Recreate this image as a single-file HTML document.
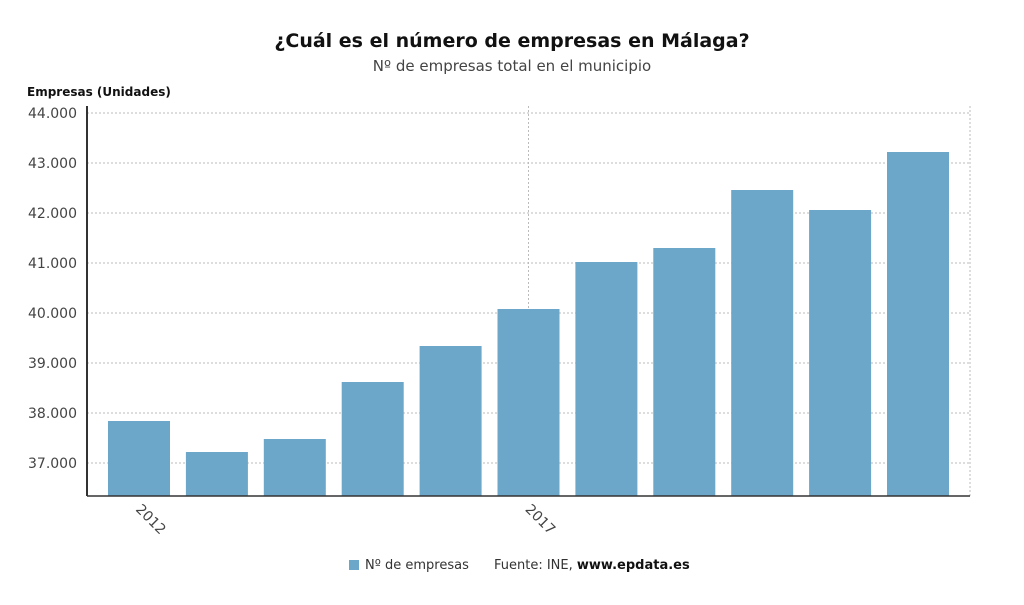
<!DOCTYPE html>
<html><head><meta charset="utf-8"><style>
body{margin:0;background:#fff;font-family:"DejaVu Sans","Liberation Sans",sans-serif;}
</style></head><body>
<svg id="c" width="1024" height="601" xmlns="http://www.w3.org/2000/svg">
<text x="512" y="47" text-anchor="middle" font-size="19" font-weight="bold" fill="#111">¿Cuál es el número de empresas en Málaga?</text>
<text x="512" y="71" text-anchor="middle" font-size="15" fill="#444">Nº de empresas total en el municipio</text>
<text x="27" y="96" font-size="12" font-weight="bold" fill="#111">Empresas (Unidades)</text>
<g id="grid"></g><g id="bars"></g><g id="axes"></g>
<rect x="349" y="560" width="10" height="10" fill="#6ca6c9"/>
<text x="365" y="569" font-size="13" fill="#333">Nº de empresas</text>
<text x="494" y="569" font-size="13" fill="#333">Fuente: INE, <tspan font-weight="bold" fill="#111">www.epdata.es</tspan></text>
</svg>
<script>
const years=[2012,2013,2014,2015,2016,2017,2018,2019,2020,2021,2022];
const values=[37840,37220,37480,38620,39340,40080,41020,41300,42460,42060,43220];
const yTicks=[37000,38000,39000,40000,41000,42000,43000,44000];
const xTickLabels=[2012,2017];
const NS="http://www.w3.org/2000/svg";
const L=87,R=970,T=113,B=496;
const y=v=>T+(44000-v)*0.05;
const x=i=>139+i*77.9;
function mk(t,a,p){const e=document.createElementNS(NS,t);for(const k in a)e.setAttribute(k,a[k]);p.appendChild(e);return e;}
const g=document.getElementById('grid'),b=document.getElementById('bars'),ax=document.getElementById('axes');
yTicks.forEach(v=>{
 const l=mk('line',{x1:L,x2:R,y1:y(v),y2:y(v),stroke:'#bbb','stroke-dasharray':'2,2'},g);
 
 
 const t=mk('text',{x:L-10,y:y(v)+5,'text-anchor':'end','font-size':14,fill:'#444'},ax);
 t.textContent=v.toLocaleString('de-DE');
 
 
});
[x(5),R].forEach(xx=>{const l=mk('line',{x1:xx,x2:xx,y1:106,y2:B,stroke:'#bbb','stroke-dasharray':'2,2'},g);
 
 });
values.forEach((v,i)=>{
 const r=mk('rect',{x:x(i)-31,y:y(v),width:62,height:B-y(v),fill:'#6ca6c9'},b);
 
 
});
const la=mk('line',{x1:L,x2:L,y1:106,y2:B,stroke:'#333','stroke-width':2},ax);


const ba=mk('line',{x1:L,x2:R,y1:B,y2:B,stroke:'#333','stroke-width':1.5},ax);


xTickLabels.forEach(yr=>{
 const i=years.indexOf(yr),xx=x(i);
 const t=mk('text',{x:xx-4,y:B+14,'font-size':14,fill:'#444',transform:`rotate(45 ${xx-4} ${B+14})`},ax);
 t.textContent=yr;
 
 
});
</script>
</body></html>
